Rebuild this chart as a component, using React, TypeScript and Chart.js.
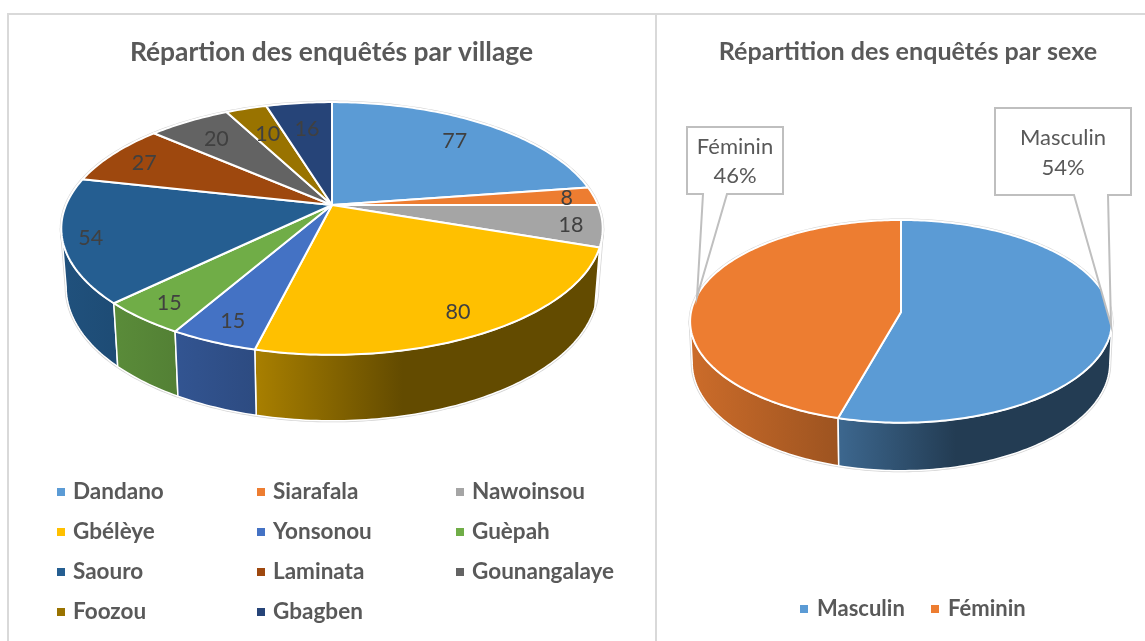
import React, { useEffect, useRef } from "react";
import { Chart, registerables } from "chart.js";

Chart.register(...registerables);

const villageLabels = ["Dandano", "Siarafala", "Nawoinsou", "Gbélèye", "Yonsonou", "Guèpah", "Saouro", "Laminata", "Gounangalaye", "Foozou", "Gbagben"];
const villageValues = [77, 8, 18, 80, 15, 15, 54, 27, 20, 10, 16];
const villageColors = ["#5B9BD5", "#ED7D31", "#A5A5A5", "#FFC000", "#4472C4", "#70AD47", "#255E91", "#9E480E", "#636363", "#997300", "#264478"];

const sexeLabels = ["Masculin", "Féminin"];
const sexeValues = [54.4, 45.6];
const sexeColors = ["#5B9BD5", "#ED7D31"];

const FONT = "Lato, Carlito, 'Open Sans', sans-serif";

function shade(hex: string, m: number) {
  const n = parseInt(hex.slice(1), 16);
  const r = Math.round(((n >> 16) & 255) * m);
  const g = Math.round(((n >> 8) & 255) * m);
  const b = Math.round((n & 255) * m);
  return `rgb(${r},${g},${b})`;
}

const SHADE_STOPS: [number, number][] = [[0, 0.86], [0.36, 0.66], [0.63, 0.39], [1, 0.39]];

const pie3d = {
  id: "pie3d",
  beforeDatasetsDraw(chart: any, _args: any, o: any) {
    const { ctx } = chart;
    const meta = chart.getDatasetMeta(0);
    const colors: string[] = chart.data.datasets[0].backgroundColor;
    const values: number[] = chart.data.datasets[0].data;
    const total = values.reduce((a, b) => a + b, 0);
    const { cx, cy, R, B, k, d0, d1, shrink } = o;

    const top = (a: number) => {
      const u = Math.cos(a), v = Math.sin(a), w = 1 - k * v;
      return [cx + (R * u) / w, cy + (B * v) / w];
    };
    const bottom = (a: number) => {
      const [x, y] = top(a);
      return [cx + (x - cx) * shrink, y + d0 + d1 * Math.sin(a)];
    };
    const steps = (a0: number, a1: number) => {
      const n = Math.max(2, Math.ceil(Math.abs(a1 - a0) / (Math.PI / 180)));
      const out: number[] = [];
      for (let i = 0; i <= n; i++) out.push(a0 + ((a1 - a0) * i) / n);
      return out;
    };
    const aMin = Math.asin(k), aMax = Math.PI - aMin;
    const rx = R / Math.sqrt(1 - k * k);

    ctx.save();
    ctx.lineJoin = "round";

    // pale outer rim
    ctx.beginPath();
    steps(0, Math.PI * 2).forEach((a, i) => {
      const [x, y] = top(a);
      i ? ctx.lineTo(x, y) : ctx.moveTo(x, y);
    });
    ctx.closePath();
    ctx.strokeStyle = "#D4D4D4";
    ctx.lineWidth = 3;
    ctx.stroke();
    ctx.beginPath();
    steps(aMin, aMax).forEach((a, i) => {
      const [x, y] = top(a);
      i ? ctx.lineTo(x, y) : ctx.moveTo(x, y);
    });
    steps(aMax, aMin).forEach((a) => {
      const [x, y] = bottom(a);
      ctx.lineTo(x, y);
    });
    ctx.closePath();
    ctx.stroke();

    // side walls, from the back to the front
    const arcs = meta.data.map((arc: any, i: number) => {
      const twoPi = Math.PI * 2;
      const s = arc.startAngle, e = arc.endAngle;
      return { i, s, e, twoPi };
    });
    const walls: { i: number; a0: number; a1: number }[] = [];
    arcs.forEach(({ i, s, e, twoPi }: any) => {
      [-twoPi, 0, twoPi].forEach((off) => {
        const a0 = Math.max(s + off, aMin), a1 = Math.min(e + off, aMax);
        if (a1 > a0) walls.push({ i, a0, a1 });
      });
    });
    walls.sort((p, q) => Math.abs(q.a0 + q.a1 - Math.PI) - Math.abs(p.a0 + p.a1 - Math.PI));
    walls.forEach(({ i, a0, a1 }) => {
      const g = ctx.createLinearGradient(cx - rx, 0, cx + rx, 0);
      SHADE_STOPS.forEach(([p, m]) => g.addColorStop(p, shade(colors[i], m)));
      ctx.beginPath();
      steps(a0, a1).forEach((a, n) => {
        const [x, y] = top(a);
        n ? ctx.lineTo(x, y) : ctx.moveTo(x, y);
      });
      steps(a1, a0).forEach((a) => {
        const [x, y] = bottom(a);
        ctx.lineTo(x, y);
      });
      ctx.closePath();
      ctx.fillStyle = g;
      ctx.fill();
      ctx.strokeStyle = "#FFFFFF";
      ctx.lineWidth = 1.5;
      ctx.stroke();
    });

    // top face
    meta.data.forEach((arc: any, i: number) => {
      ctx.beginPath();
      ctx.moveTo(cx, cy);
      steps(arc.startAngle, arc.endAngle).forEach((a) => {
        const [x, y] = top(a);
        ctx.lineTo(x, y);
      });
      ctx.closePath();
      ctx.fillStyle = colors[i];
      ctx.fill();
      ctx.strokeStyle = "#FFFFFF";
      ctx.lineWidth = 2;
      ctx.stroke();
    });

    // value labels
    if (o.labelRadii) {
      ctx.font = `${o.labelSize}px ${FONT}`;
      ctx.fillStyle = "#404040";
      ctx.textAlign = "center";
      ctx.textBaseline = "middle";
      meta.data.forEach((arc: any, i: number) => {
        const a = (arc.startAngle + arc.endAngle) / 2;
        const f = o.labelRadii[i];
        const u = f * Math.cos(a), v = f * Math.sin(a), w = 1 - k * v;
        ctx.fillText(String(values[i]), cx + (R * u) / w, cy + (B * v) / w + 1.5);
      });
    }

    // callouts with a leader wedge
    (o.callouts || []).forEach((c: any) => {
      const arcIndex = c.index;
      const pct = Math.round((values[arcIndex] / total) * 100);
      ctx.beginPath();
      ctx.moveTo(c.x0, c.y0);
      ctx.lineTo(c.x1, c.y0);
      ctx.lineTo(c.x1, c.y1);
      ctx.lineTo(c.t1, c.y1);
      ctx.lineTo(c.tipX, c.tipY);
      ctx.lineTo(c.t0, c.y1);
      ctx.lineTo(c.x0, c.y1);
      ctx.closePath();
      ctx.fillStyle = "#FFFFFF";
      ctx.fill();
      ctx.strokeStyle = "#BFBFBF";
      ctx.lineWidth = 2;
      ctx.lineJoin = "miter";
      ctx.stroke();
      ctx.fillStyle = "#595959";
      ctx.font = `${o.calloutSize}px ${FONT}`;
      ctx.textAlign = "center";
      ctx.textBaseline = "middle";
      const mx = (c.x0 + c.x1) / 2;
      ctx.fillText(chart.data.labels[arcIndex], mx, c.line1);
      ctx.fillText(`${pct}%`, mx, c.line2);
    });

    ctx.restore();
    return false;
  },
};

const gridLegend = {
  id: "gridLegend",
  afterDraw(chart: any, _args: any, o: any) {
    const { ctx } = chart;
    const colors: string[] = chart.data.datasets[0].backgroundColor;
    ctx.save();
    ctx.font = `bold ${o.size}px ${FONT}`;
    ctx.textAlign = "left";
    ctx.textBaseline = "middle";
    chart.data.labels.forEach((label: string, i: number) => {
      const col = i % o.columns.length;
      const row = Math.floor(i / o.columns.length);
      const x = o.columns[col];
      const y = o.firstRow + row * o.rowGap;
      ctx.fillStyle = colors[i];
      ctx.fillRect(x, y - o.box / 2, o.box, o.box);
      ctx.fillStyle = "#595959";
      ctx.fillText(label, x + o.textGap, y);
    });
    ctx.restore();
  },
};

function makeChart(canvas: HTMLCanvasElement, labels: string[], data: number[], colors: string[], title: string, titleSize: number, titleTop: number, pieOpts: any, legendOpts: any) {
  return new Chart(canvas, {
    type: "pie",
    data: { labels, datasets: [{ data, backgroundColor: colors, borderWidth: 0 }] },
    options: {
      responsive: false,
      animation: false,
      devicePixelRatio: 1,
      events: [],
      layout: { padding: 0 },
      plugins: {
        legend: { display: false },
        tooltip: { enabled: false },
        title: {
          display: true,
          text: title,
          color: "#595959",
          font: { family: FONT, size: titleSize, weight: "bold" },
          padding: { top: titleTop, bottom: 10 },
        },
        pie3d: pieOpts,
        gridLegend: legendOpts,
      },
    } as any,
    plugins: [pie3d, gridLegend],
  } as any);
}

export default function App() {
  const leftRef = useRef<HTMLCanvasElement>(null);
  const rightRef = useRef<HTMLCanvasElement>(null);

  useEffect(() => {
    const left = makeChart(leftRef.current!, villageLabels, villageValues, villageColors, "Répartion des enquêtés par village", 26.4, 37, 
      {
        cx: 332, cy: 205, R: 266, B: 122, k: 0.1857, d0: 57, d1: 9, shrink: 0.982,
        labelSize: 21.5,
        labelRadii: [0.784, 0.896, 0.886, 0.852, 0.859, 0.874, 0.9, 0.849, 0.785, 0.718, 0.723],
      },
      { columns: [57, 257, 456], firstRow: 492, rowGap: 40, box: 8, textGap: 16, size: 22.5 });
    const offset = 671;
    const right = makeChart(rightRef.current!, sexeLabels, sexeValues, sexeColors, "Répartition des enquêtés par sexe", 25.1, 36.5,
      {
        cx: 901 - offset, cy: 312, R: 210, B: 100.5, k: 0.0922, d0: 41, d1: 7, shrink: 0.99,
        calloutSize: 22,
        callouts: [
          { index: 1, x0: 687 - offset, x1: 783 - offset, y0: 127, y1: 194, t0: 703 - offset, t1: 727 - offset, tipX: 697 - offset, tipY: 297, line1: 147, line2: 176 },
          { index: 0, x0: 995 - offset, x1: 1131 - offset, y0: 108, y1: 195, t0: 1074 - offset, t1: 1108 - offset, tipX: 1111 - offset, tipY: 325, line1: 138, line2: 168 },
        ],
      },
      { columns: [800 - offset, 931 - offset], firstRow: 609, rowGap: 40, box: 8, textGap: 17, size: 22 });
    return () => {
      left.destroy();
      right.destroy();
    };
  }, []);

  const line = (s: React.CSSProperties) => <div style={{ position: "absolute", background: "#D9D9D9", ...s }} />;

  return (
    <div style={{ position: "absolute", left: 0, top: 0, width: 1145, height: 641, background: "#FFFFFF", overflow: "hidden" }}>
      {line({ left: 7, top: 13, width: 1138, height: 2 })}
      {line({ left: 7, top: 13, width: 2, height: 628 })}
      {line({ left: 655, top: 13, width: 2, height: 628 })}
      <canvas ref={leftRef} width={663} height={641} style={{ position: "absolute", left: 0, top: 0 }} />
      <canvas ref={rightRef} width={474} height={641} style={{ position: "absolute", left: 671, top: 0 }} />
    </div>
  );
}
